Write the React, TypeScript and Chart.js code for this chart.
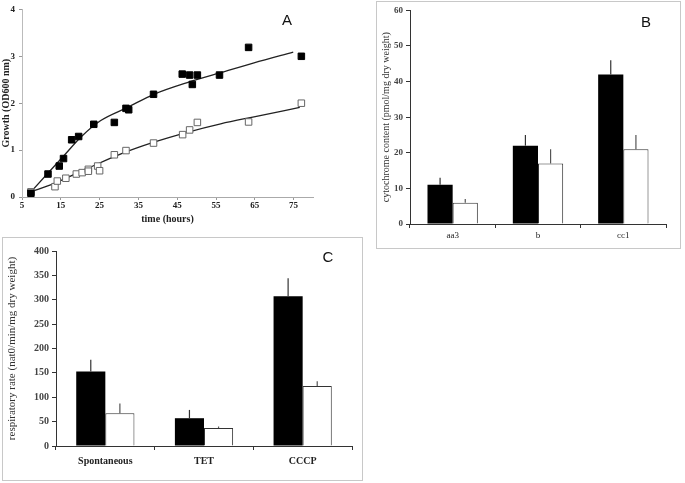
import React, { useEffect, useRef } from "react";
import { Chart, registerables } from "chart.js";
Chart.register(...registerables);

// ---------- Panel A data ----------
const timeTicks = [5, 15, 25, 35, 45, 55, 65, 75];
const growthTicks = [0, 1, 2, 3, 4];
const blackTime = [7.3, 11.7, 14.6, 15.7, 17.8, 19.6, 23.5, 28.8, 31.8, 32.5, 38.9, 46.3, 48.2, 48.9, 50.2, 55.9, 63.4, 77.0];
const blackOD = [0.08, 0.49, 0.66, 0.82, 1.22, 1.29, 1.55, 1.59, 1.89, 1.86, 2.19, 2.62, 2.6, 2.4, 2.6, 2.6, 3.19, 3.0];
const openTime = [7.3, 13.5, 14.1, 16.3, 19.0, 20.5, 22.1, 22.1, 24.5, 25.0, 28.8, 31.8, 38.9, 46.4, 48.2, 50.2, 63.4, 77.0];
const openOD = [0.11, 0.22, 0.34, 0.4, 0.49, 0.52, 0.59, 0.55, 0.66, 0.56, 0.9, 0.99, 1.15, 1.33, 1.43, 1.59, 1.6, 2.0];
const blackFitTime = [7.3, 11.6, 15.9, 20.2, 25.3, 32.2, 39.0, 47.6, 56.2, 64.8, 74.9];
const blackFitOD = [0.11, 0.5, 0.89, 1.28, 1.63, 1.91, 2.19, 2.44, 2.65, 2.86, 3.09];
const openFitTime = [7.3, 13.3, 21.9, 30.5, 39.0, 47.6, 56.2, 64.8, 76.6];
const openFitOD = [0.11, 0.29, 0.61, 0.92, 1.17, 1.38, 1.56, 1.71, 1.91];

// ---------- Panel B data ----------
const cytoCategories = ["aa3", "b", "cc1"];
const cytoBlack = [11, 22, 42];
const cytoBlackErr = [2, 3, 4];
const cytoWhite = [6, 17, 21];
const cytoWhiteErr = [1, 4, 4];

// ---------- Panel C data ----------
const respCategories = ["Spontaneous", "TET", "CCCP"];
const respBlack = [153, 57, 307];
const respBlackErr = [24, 17, 37];
const respWhite = [67, 37, 123];
const respWhiteErr = [20, 3, 10];

const SERIF = "'Liberation Serif', 'Times New Roman', serif";
const SANS = "'Liberation Sans', Arial, sans-serif";

const toPoints = (xs: number[], ys: number[]) => xs.map((x, i) => ({ x, y: ys[i] }));

const errorBarPlugin = {
  id: "errorBars",
  afterDatasetsDraw(chart: any) {
    const ctx = chart.ctx;
    const yScale = chart.scales.y;
    chart.data.datasets.forEach((ds: any, i: number) => {
      if (!ds.errors) return;
      const meta = chart.getDatasetMeta(i);
      meta.data.forEach((bar: any, j: number) => {
        const top = yScale.getPixelForValue(ds.data[j] + ds.errors[j]);
        ctx.save();
        ctx.strokeStyle = ds.errorColor || "#333";
        ctx.lineWidth = 1.2;
        ctx.beginPath();
        ctx.moveTo(bar.x, bar.y);
        ctx.lineTo(bar.x, top);
        ctx.stroke();
        ctx.restore();
      });
    });
  },
};

const letterPlugin = {
  id: "panelLetter",
  afterDraw(chart: any, _args: any, opts: any) {
    if (!opts || !opts.text) return;
    const ctx = chart.ctx;
    ctx.save();
    ctx.font = `15px ${SANS}`;
    ctx.fillStyle = "#111";
    ctx.textAlign = "center";
    ctx.textBaseline = "middle";
    ctx.fillText(opts.text, opts.x, opts.y);
    ctx.restore();
  },
};

function ChartCanvas({ left, top, width, height, config }: any) {
  const ref = useRef<HTMLCanvasElement>(null);
  useEffect(() => {
    const chart = new Chart(ref.current as HTMLCanvasElement, config);
    return () => chart.destroy();
  }, []);
  return (
    <canvas
      ref={ref}
      width={width}
      height={height}
      style={{ position: "absolute", left, top, width, height }}
    />
  );
}

const configA: any = {
  type: "scatter",
  data: {
    datasets: [
      { data: toPoints(blackTime, blackOD), pointStyle: "rect", pointRadius: 4.6, backgroundColor: "#000", borderColor: "#000", borderWidth: 1 },
      { data: toPoints(openTime, openOD), pointStyle: "rect", pointRadius: 4.6, backgroundColor: "#fff", borderColor: "#666", borderWidth: 1 },
      { data: toPoints(blackFitTime, blackFitOD), showLine: true, pointRadius: 0, borderColor: "#222", borderWidth: 1.3, tension: 0.4, cubicInterpolationMode: "monotone", fill: false },
      { data: toPoints(openFitTime, openFitOD), showLine: true, pointRadius: 0, borderColor: "#222", borderWidth: 1.3, tension: 0.4, cubicInterpolationMode: "monotone", fill: false },
    ],
  },
  options: {
    animation: false,
    responsive: false,
    layout: { padding: { left: 0, top: 8, right: 17, bottom: 0 } },
    plugins: { legend: { display: false }, tooltip: { enabled: false }, panelLetter: { text: "A", x: 287, y: 21 } },
    scales: {
      x: {
        type: "linear",
        min: 5,
        max: 80,
        afterBuildTicks: (s: any) => { s.ticks = timeTicks.map((v) => ({ value: v })); },
        afterFit: (s: any) => { s.height = 35; },
        grid: { drawOnChartArea: false, tickLength: 3, color: "#999" },
        border: { color: "#aaa" },
        ticks: { font: { family: SERIF, weight: "bold", size: 9 }, color: "#222", padding: 0, maxRotation: 0, autoSkip: false },
        title: { display: true, text: "time (hours)", font: { family: SERIF, weight: "bold", size: 10 }, color: "#222", padding: { top: 0, bottom: 7 } },
      },
      y: {
        min: 0,
        max: 4,
        afterBuildTicks: (s: any) => { s.ticks = growthTicks.map((v) => ({ value: v })); },
        afterFit: (s: any) => { s.width = 22; },
        grid: { drawOnChartArea: false, tickLength: 3, color: "#999" },
        border: { color: "#bbb" },
        ticks: { font: { family: SERIF, weight: "bold", size: 9 }, color: "#222", padding: 4 },
        title: { display: true, text: "Growth (OD600 nm)", font: { family: SERIF, weight: "bold", size: 10 }, color: "#222", padding: { top: 0, bottom: 0 } },
      },
    },
  },
  plugins: [letterPlugin],
};

const barConfig = (
  labels: string[], black: number[], blackErr: number[], white: number[], whiteErr: number[],
  o: any
): any => ({
  type: "bar",
  data: {
    labels,
    datasets: [
      { data: black, errors: blackErr, errorColor: "#333", backgroundColor: "#000", borderWidth: 0, categoryPercentage: 0.59, barPercentage: 1 },
      { data: white, errors: whiteErr, errorColor: "#555", backgroundColor: "#fff", borderColor: "#333", borderWidth: 1, categoryPercentage: 0.59, barPercentage: 1 },
    ],
  },
  options: {
    animation: false,
    responsive: false,
    layout: { padding: o.padding },
    plugins: { legend: { display: false }, tooltip: { enabled: false }, panelLetter: o.letter },
    scales: {
      x: {
        afterFit: (s: any) => { s.height = o.xHeight; },
        grid: { drawOnChartArea: false, tickLength: 4, color: "#333", offset: true },
        border: { color: "#333" },
        ticks: { font: { family: SERIF, weight: o.xWeight, size: o.xSize }, color: "#222", padding: o.xPad, maxRotation: 0, autoSkip: false },
      },
      y: {
        min: 0,
        max: o.yMax,
        ticks: { stepSize: o.yStep, font: { family: SERIF, weight: "bold", size: o.ySize }, color: "#444", padding: 3 },
        afterFit: (s: any) => { s.width = o.yWidth; },
        grid: { drawOnChartArea: false, tickLength: 4, color: "#333" },
        border: { color: "#333" },
        title: { display: true, text: o.yTitle, font: { family: SERIF, size: o.yTitleSize }, color: "#333", padding: { top: o.yTitlePad, bottom: 0 } },
      },
    },
  },
  plugins: [errorBarPlugin, letterPlugin],
});

const configB = barConfig(cytoCategories, cytoBlack, cytoBlackErr, cytoWhite, cytoWhiteErr, {
  padding: { left: 0, top: 8, right: 14, bottom: 0 },
  letter: { text: "B", x: 269, y: 21 },
  xHeight: 24, xWeight: "normal", xSize: 9, xPad: 2,
  yMax: 60, yStep: 10, ySize: 9, yWidth: 33,
  yTitle: "cytochrome content (pmol/mg dry weight)", yTitleSize: 10, yTitlePad: 3.5,
});

const configC = barConfig(respCategories, respBlack, respBlackErr, respWhite, respWhiteErr, {
  padding: { left: 0, top: 13, right: 10, bottom: 0 },
  letter: { text: "C", x: 325, y: 20 },
  xHeight: 34, xWeight: "bold", xSize: 10, xPad: 5,
  yMax: 400, yStep: 50, ySize: 10, yWidth: 53,
  yTitle: "respiratory rate (nat0/min/mg dry weight)", yTitleSize: 11, yTitlePad: 2.4,
});

export default function App() {
  const box = { position: "absolute" as const, border: "1px solid #c8c8c8", boxSizing: "border-box" as const };
  return (
    <div style={{ position: "fixed", left: 0, top: 0, width: 685, height: 483, background: "#fff", overflow: "hidden" }}>
      <ChartCanvas left={0} top={0} width={330} height={232} config={configA} />
      <div style={{ ...box, left: 376, top: 1, width: 305, height: 248 }} />
      <ChartCanvas left={377} top={2} width={303} height={246} config={configB} />
      <div style={{ ...box, left: 2, top: 237, width: 361, height: 244 }} />
      <ChartCanvas left={3} top={238} width={359} height={242} config={configC} />
    </div>
  );
}
